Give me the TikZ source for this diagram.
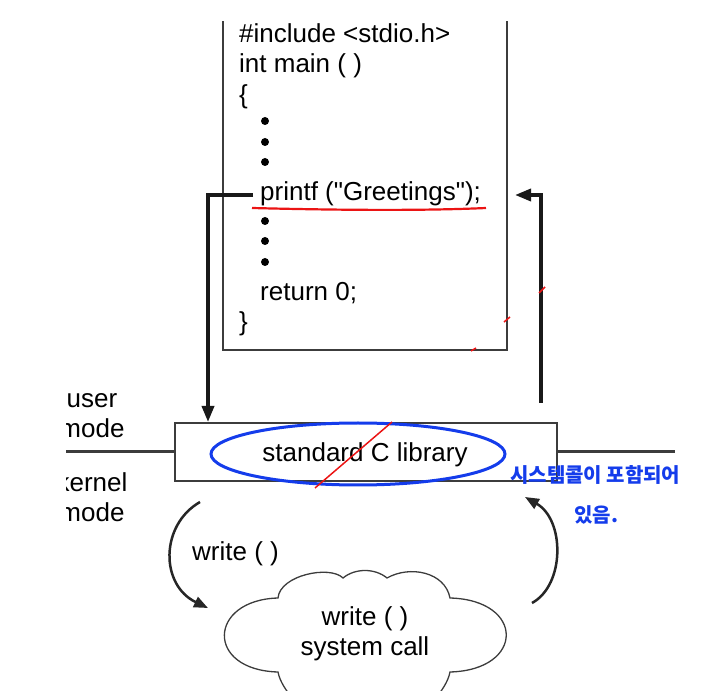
\documentclass[tikz,border=0pt]{standalone}
\usepackage{fontspec}
\setmainfont{Liberation Sans}
\newfontfamily\arialfont{Liberation Sans}
\newfontfamily\krfont{Noto Sans CJK KR}
\usetikzlibrary{arrows.meta}
\definecolor{boxgray}{RGB}{60,60,60}
\definecolor{penblue}{RGB}{20,60,235}
\definecolor{penred}{RGB}{235,20,20}
\tikzset{
  txt/.style={inner sep=0, font=\arialfont\fontsize{26}{30}\selectfont},
  boxline/.style={draw=boxgray, line width=2pt},
  flow/.style={draw=black!90, line width=3.5pt, -{Triangle[length=16pt,width=12pt]}},
  curved/.style={draw=black!85, line width=2.5pt, -{Triangle[length=14pt,width=11pt]}},
  dotmark/.style={circle, fill=black, inner sep=0, minimum size=8pt},
  redpen/.style={draw=penred, line width=2.2pt},
  note/.style={inner sep=0, text=penblue, font=\krfont\bfseries\fontsize{20}{24}\selectfont, anchor=west},
}
\begin{document}
\begin{tikzpicture}[x=1pt,y=-1pt]
\useasboundingbox (0,0) rectangle (726,700);
\begin{scope}
\clip (66,22) rectangle (726,690);
% code box (open top)
\node (code) [minimum width=284pt, minimum height=340pt, inner sep=0, anchor=south west] at (223,350) {};
\draw[boxline] (code.north west) -- (code.south west) -- (code.south east) -- (code.north east);
\node[txt, anchor=base west] (l1) at (239,43) {\#include <stdio.h>};
\node[txt, anchor=base west] (l2) at (239,73) {int main ( )};
\node[txt, anchor=base west] (l3) at (239,104) {\{};
\node[dotmark] (d1) at (265,121) {};
\node[dotmark] (d2) at (265,142) {};
\node[dotmark] (d3) at (265,162) {};
\node[txt, anchor=base west] (pf) at (260,201) {printf ("Greetings");};
\node[dotmark] (d4) at (265,221) {};
\node[dotmark] (d5) at (265,241) {};
\node[dotmark] (d6) at (265,262) {};
\node[txt, anchor=base west] (ret) at (260,301) {return 0;};
\node[txt, anchor=base west] (l9) at (239,331) {\}};
% library box
\node (lib) [boxline, minimum width=382pt, minimum height=58pt, inner sep=0] at (366,452) {};
\node[txt, anchor=base] (libtxt) at (365,462) {standard C library};
% mode divider
\coordinate (divL) at (40,452);
\coordinate (divR) at (675,452);
\draw[draw=boxgray, line width=3pt] (divL) -- (lib.west);
\draw[draw=boxgray, line width=3pt] (lib.east) -- (divR);
\node[txt, align=center] (user) at (92,416) {user\\mode};
\node[txt, align=center] (kern) at (92,497) {kernel\\mode};
% arrows to/from library
\coordinate (pfL) at (253,195);
\draw[flow] (pfL) -| (lib.north -| 208,0);
\coordinate (retS) at (541,403);
\coordinate (retE) at (515,195);
\draw[flow] (retS) |- (retE);
% cloud
\node (cloud) [inner sep=0, minimum width=286pt, minimum height=120pt] at (365,635) {};
\draw[draw=boxgray, line width=1.3pt]
  (292,698) .. controls (286,690) and (280,682) .. (278,672)
  .. controls (205,670) and (208,600) .. (278,598)
  .. controls (280,575) and (330,565) .. (343,578)
  .. controls (355,568) and (375,568) .. (387,578)
  .. controls (410,565) and (445,572) .. (450,598)
  .. controls (525,600) and (525,670) .. (450,672)
  .. controls (448,682) and (442,690) .. (436,698);
\node[txt, align=center] (cloudtxt) at (365,634) {write ( )\\system call};
% curved arrows
\coordinate (cL1) at (200,502);
\coordinate (cL2) at (208,608);
\draw[curved] (cL1) .. controls (160,525) and (160,585) .. (cL2);
\node[txt, anchor=base west] (wlab) at (192,560) {write ( )};
\coordinate (cR1) at (532,603);
\coordinate (cR2) at (525,497);
\draw[curved] (cR1) .. controls (565,585) and (565,520) .. (cR2);
% annotations
\draw[redpen] (252,208) .. controls (330,210) and (420,211) .. (486,208);
\draw[draw=penblue, line width=3pt] (358,454) ellipse [x radius=147, y radius=31];
\draw[draw=penred, line width=1.5pt] (315,488) -- (392,422);
\draw[draw=penred, line width=1.5pt] (471,351) -- (476,348);
\draw[draw=penred, line width=1.5pt] (504,322) -- (510,317);
\draw[draw=penred, line width=1.5pt] (539,293) -- (545,287);
\end{scope}
\node[note] (note1) at (510,475) {시스템콜이 포함되어};
\node[note] (note2) at (574,515) {있음.};
\end{tikzpicture}
\end{document}
